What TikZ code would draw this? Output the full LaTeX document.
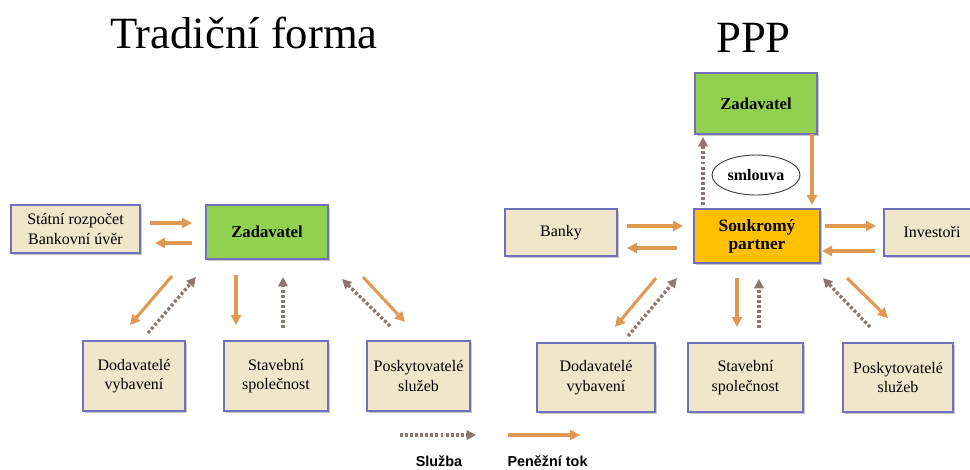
\documentclass[tikz,border=0pt]{standalone}
\usepackage{fontspec}
\setmainfont{Liberation Serif}
\newfontfamily\legendfont{Liberation Sans}
\usetikzlibrary{shapes.geometric,arrows.meta,shadows}
\definecolor{tanfill}{RGB}{238,231,202}
\definecolor{boxedge}{RGB}{112,112,190}
\definecolor{zgreen}{RGB}{146,208,80}
\definecolor{sporange}{RGB}{255,192,0}
\definecolor{moneyc}{RGB}{224,152,82}
\definecolor{servc}{RGB}{140,118,112}
\tikzset{
  basebox/.style={draw=boxedge, line width=0.9pt, inner sep=0pt, align=center,
     drop shadow={shadow xshift=1.3pt, shadow yshift=-1.5pt, fill=black, opacity=0.22}},
  tanbox/.style={basebox, fill=tanfill, font=\fontsize{12}{14.5}\selectfont},
  greenbox/.style={basebox, fill=zgreen, font=\fontsize{12.5}{15}\selectfont\bfseries},
  orangebox/.style={basebox, fill=sporange, font=\fontsize{13}{13.5}\selectfont\bfseries},
  title/.style={anchor=base, font=\fontsize{33.5}{36}\selectfont},
  money/.style={draw=moneyc, line width=2.3pt, -{Triangle[length=7.5pt,width=7.5pt]}},
  service/.style={draw=servc, line width=2.5pt, dash pattern=on 2.2pt off 1.6pt,
     -{Triangle[length=7pt,width=7pt]}},
  legendtext/.style={anchor=base, font=\legendfont\fontsize{10.8}{12}\selectfont\bfseries}
}
\begin{document}
\begin{tikzpicture}[x=0.75pt,y=-0.75pt]
\useasboundingbox (0,0) rectangle (970,469);
% titles
\node[title] (t1) at (244,48) {Tradiční forma};
\node[title] (t2) at (753.5,52) {PPP};
% left side nodes
\node[tanbox, minimum width=96.75pt, minimum height=36pt] (sr) at (75.5,229) {Státní rozpočet\\Bankovní úvěr};
\node[greenbox, minimum width=91.5pt, minimum height=40.5pt] (zl) at (267,232) {Zadavatel};
\node[tanbox, minimum width=76.5pt, minimum height=52.5pt] (d1) at (134,376) {Dodavatelé\\vybavení};
\node[tanbox, minimum width=78pt, minimum height=52.5pt] (s1) at (276,376) {Stavební\\společnost};
\node[tanbox, minimum width=77.25pt, minimum height=52.5pt] (p1) at (418.5,376) {Poskytovatelé\\služeb};
% right side nodes
\node[greenbox, minimum width=91.5pt, minimum height=45.75pt] (zr) at (756,103.5) {Zadavatel};
\node[draw=black!75, line width=0.7pt, ellipse, fill=white, minimum width=66pt, minimum height=30pt, inner sep=0pt,
      font=\fontsize{12}{14}\selectfont\bfseries] (sm) at (756,175) {smlouva};
\node[orangebox, minimum width=94.5pt, minimum height=40.5pt] (sp) at (757,236) {Soukromý\\partner};
\node[tanbox, minimum width=84pt, minimum height=35.25pt] (bk) at (561,232.5) {Banky};
\node[tanbox, minimum width=72pt, minimum height=35.25pt] (inv) at (932,232.5) {Investoři};
\node[tanbox, minimum width=88.5pt, minimum height=51.75pt] (d2) at (596,377.5) {Dodavatelé\\vybavení};
\node[tanbox, minimum width=86.25pt, minimum height=51.75pt] (s2) at (745.5,377.5) {Stavební\\společnost};
\node[tanbox, minimum width=82.5pt, minimum height=51.75pt] (p2) at (898,377.5) {Poskytovatelé\\služeb};
% arrow end points, left
\coordinate (a1s) at (150,223); \coordinate (a1e) at (192,223);
\coordinate (a2s) at (192,243); \coordinate (a2e) at (155,243);
\coordinate (a3s) at (172,276); \coordinate (a3e) at (130,325);
\coordinate (a4s) at (148,333); \coordinate (a4e) at (196,277);
\coordinate (a5s) at (236,275); \coordinate (a5e) at (236,325);
\coordinate (a6s) at (283,328); \coordinate (a6e) at (283,277);
\coordinate (a7s) at (390,326); \coordinate (a7e) at (342,279);
\coordinate (a8s) at (363,277); \coordinate (a8e) at (405,322);
% arrow end points, right
\coordinate (b1s) at (627,226); \coordinate (b1e) at (683,226);
\coordinate (b2s) at (677,248); \coordinate (b2e) at (627,248);
\coordinate (b3s) at (825,226); \coordinate (b3e) at (876,226);
\coordinate (b4s) at (875,251); \coordinate (b4e) at (822,251);
\coordinate (b5s) at (703,205); \coordinate (b5e) at (703,137);
\coordinate (b6s) at (812,134); \coordinate (b6e) at (812,205);
\coordinate (b7s) at (656,278); \coordinate (b7e) at (615,327);
\coordinate (b8s) at (628,336); \coordinate (b8e) at (677,278);
\coordinate (b9s) at (737,278); \coordinate (b9e) at (737,327);
\coordinate (b10s) at (759,328); \coordinate (b10e) at (759,279);
\coordinate (b11s) at (870,327); \coordinate (b11e) at (823,278);
\coordinate (b12s) at (847,278); \coordinate (b12e) at (888,318);
% legend
\coordinate (l1s) at (400,435); \coordinate (l1e) at (476,435);
\coordinate (l2s) at (508,435); \coordinate (l2e) at (580,435);
% left arrows
\draw[money] (a1s) -- (a1e);
\draw[money] (a2s) -- (a2e);
\draw[money] (a3s) -- (a3e);
\draw[service] (a4s) -- (a4e);
\draw[money] (a5s) -- (a5e);
\draw[service] (a6s) -- (a6e);
\draw[service] (a7s) -- (a7e);
\draw[money] (a8s) -- (a8e);
% right arrows
\draw[money] (b1s) -- (b1e);
\draw[money] (b2s) -- (b2e);
\draw[money] (b3s) -- (b3e);
\draw[money] (b4s) -- (b4e);
\draw[service] (b5s) -- (b5e);
\draw[money] (b6s) -- (b6e);
\draw[money] (b7s) -- (b7e);
\draw[service] (b8s) -- (b8e);
\draw[money] (b9s) -- (b9e);
\draw[service] (b10s) -- (b10e);
\draw[service] (b11s) -- (b11e);
\draw[money] (b12s) -- (b12e);
% legend
\draw[service] (l1s) -- (l1e);
\draw[money] (l2s) -- (l2e);
\node[legendtext] (lt1) at (439,466) {Služba};
\node[legendtext] (lt2) at (547.5,466) {Peněžní tok};
\end{tikzpicture}
\end{document}
